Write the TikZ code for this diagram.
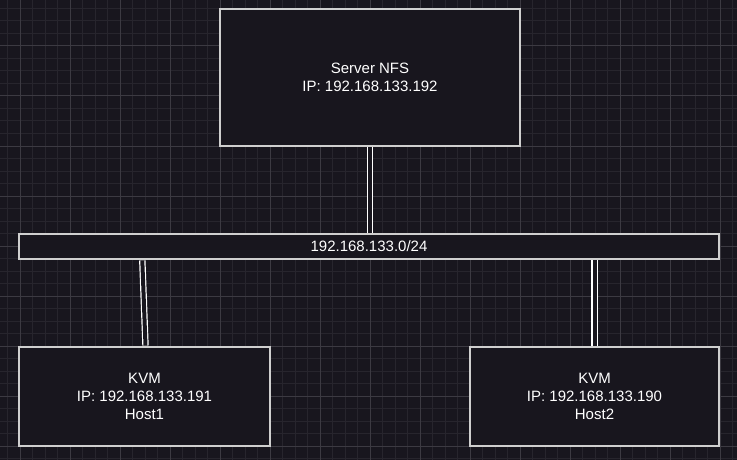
\documentclass[tikz,border=0pt]{standalone}
\usepackage{fontspec}
\setmainfont{Liberation Sans}
\definecolor{bg}{HTML}{18161E}
\definecolor{gridminor}{HTML}{27252D}
\definecolor{gridmajor}{HTML}{3C3A42}
\definecolor{edge}{HTML}{CFCFCF}
\tikzset{
  box/.style={draw=edge, fill=bg, line width=1.4pt, align=center, text=white,
    font=\fontsize{15pt}{18pt}\selectfont, inner sep=0pt},
  link/.style={draw=white, line width=1.2pt, double=bg, double distance=4pt},
  minorline/.style={draw=gridminor, line width=1pt},
  majorline/.style={draw=gridmajor, line width=1pt}
}
\begin{document}
\begin{tikzpicture}[x=1pt,y=-1pt]
\useasboundingbox (0,0) rectangle (737,460);
\fill[bg] (0,0) rectangle (737,460);
% grid
\foreach \k in {0,...,59} {
  \pgfmathsetmacro{\xx}{7.5+12.5*\k}
  \draw[minorline] (\xx,0) -- (\xx,460);
}
\foreach \k in {0,...,37} {
  \pgfmathsetmacro{\yy}{8.5+12.5*\k}
  \draw[minorline] (0,\yy) -- (737,\yy);
}
\foreach \k in {0,...,14} {
  \pgfmathsetmacro{\xx}{20+50*\k}
  \draw[majorline] (\xx,0) -- (\xx,460);
}
\foreach \k in {0,...,9} {
  \pgfmathsetmacro{\yy}{-4+50*\k}
  \draw[majorline] (0,\yy) -- (737,\yy);
}
% nodes
\node[box, minimum width=300pt, minimum height=137pt] (srv) at (370,77.5) {Server NFS\\IP: 192.168.133.192};
\node[box, minimum width=700pt, minimum height=25pt] (net) at (369,246.5) {192.168.133.0/24};
\node[box, minimum width=251pt, minimum height=99pt] (kvm1) at (144.5,396.5) {KVM\\IP: 192.168.133.191\\Host1};
\node[box, minimum width=249pt, minimum height=99pt] (kvm2) at (594.5,396.5) {KVM\\IP: 192.168.133.190\\Host2};
% connectors
\draw[link] ([yshift=-0.7pt]srv.south) -- ([yshift=0.7pt]srv.south |- net.north);
\draw[link] ([xshift=124pt,yshift=-0.7pt]net.south west) -- ([xshift=1pt,yshift=0.7pt]kvm1.north);
\draw[link] ([yshift=-0.7pt]kvm2.north |- net.south) -- ([yshift=0.7pt]kvm2.north);
\end{tikzpicture}
\end{document}
